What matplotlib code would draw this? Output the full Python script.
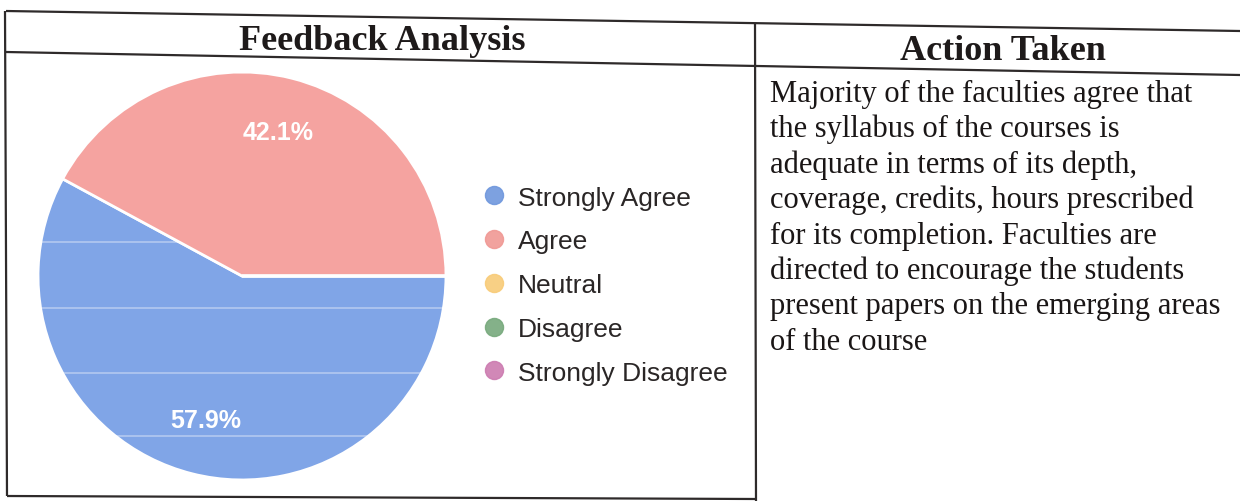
import numpy as np
import matplotlib.pyplot as plt
from matplotlib.lines import Line2D

# Feedback data
categories = ['Strongly Agree', 'Agree', 'Neutral', 'Disagree', 'Strongly Disagree']
shares = [57.9, 42.1, 0.0, 0.0, 0.0]
colors = ['#80a5e7', '#f5a3a0', '#f8cc78', '#7cae80', '#cf7fb4']
legend_colors = ['#6f97dd', '#f09894', '#f8cb78', '#77a97c', '#cc7bb0']

header_left = 'Feedback Analysis'
header_right = 'Action Taken'
action_lines = [
    'Majority of the faculties agree that',
    'the syllabus of the courses is',
    'adequate in terms of its depth,',
    'coverage, credits, hours prescribed',
    'for its completion. Faculties are',
    'directed to encourage the students',
    'present papers on the emerging areas',
    'of the course',
]

W, H = 1240, 502
fig = plt.figure(figsize=(W / 100, H / 100), dpi=100)

# overlay in pixel coords for the table
tab = fig.add_axes([0, 0, 1, 1])
tab.set_xlim(0, W)
tab.set_ylim(H, 0)
tab.axis('off')

line_kw = dict(color='#2e2a2a', lw=1.6, solid_capstyle='butt')
tab.plot([6, 1240], [12, 32], **line_kw)      # top
tab.plot([6, 1240], [53, 76], **line_kw)      # header bottom
tab.plot([5, 7], [12, 497], **line_kw)        # left border
tab.plot([755, 756], [24, 502], **line_kw)    # divider
tab.plot([7, 755], [497, 500], **line_kw)     # bottom

serif = 'Liberation Serif'
tab.text(382, 42, header_left, family=serif, weight='bold', fontsize=26,
         ha='center', va='center', color='#1e1a1a')
tab.text(1003, 51, header_right, family=serif, weight='bold', fontsize=26,
         ha='center', va='center', color='#1e1a1a')

for i, txt in enumerate(action_lines):
    tab.text(770, 102 + i * 35.4, txt, family=serif, fontsize=22,
             ha='left', va='baseline', color='#1a1616')

# pie chart
cx, cy, r = 242, 277, 206
ax = fig.add_axes([(cx - r) / W, (H - cy - r) / H, 2 * r / W, 2 * r / H])
wedges, texts, autotexts = ax.pie(
    shares, colors=colors, startangle=0, counterclock=False, radius=1,
    autopct=lambda p: f'{p:.1f}%' if p > 0 else '', pctdistance=0.73,
    wedgeprops=dict(edgecolor='white', linewidth=2),
    textprops=dict(color='white', fontsize=18, weight='bold',
                   family='Liberation Sans'))
ax.set_xlim(-1.01, 1.01)
ax.set_ylim(-1.01, 1.01)
ax.set_aspect('equal')

# faint white scan streaks across the blue slice
for yy in [0.165, -0.155, -0.475, -0.785]:
    ln = ax.axhline(yy, color='white', lw=1.2, alpha=0.4)
    ln.set_clip_path(wedges[0])

# legend
handles = [Line2D([], [], marker='o', ls='', markersize=13,
                  markerfacecolor=c, markeredgecolor=c, alpha=0.9)
           for c in legend_colors]
fig.legend(handles, categories, loc='upper left',
           bbox_to_anchor=(468 / W, 1 - 176 / H), frameon=False,
           prop=dict(family='Liberation Sans', size=19),
           handletextpad=0.3, labelspacing=0.75, handlelength=1.2,
           labelcolor='#2a2626', borderaxespad=0)

fig.savefig('out.png', dpi=100, facecolor='white')
